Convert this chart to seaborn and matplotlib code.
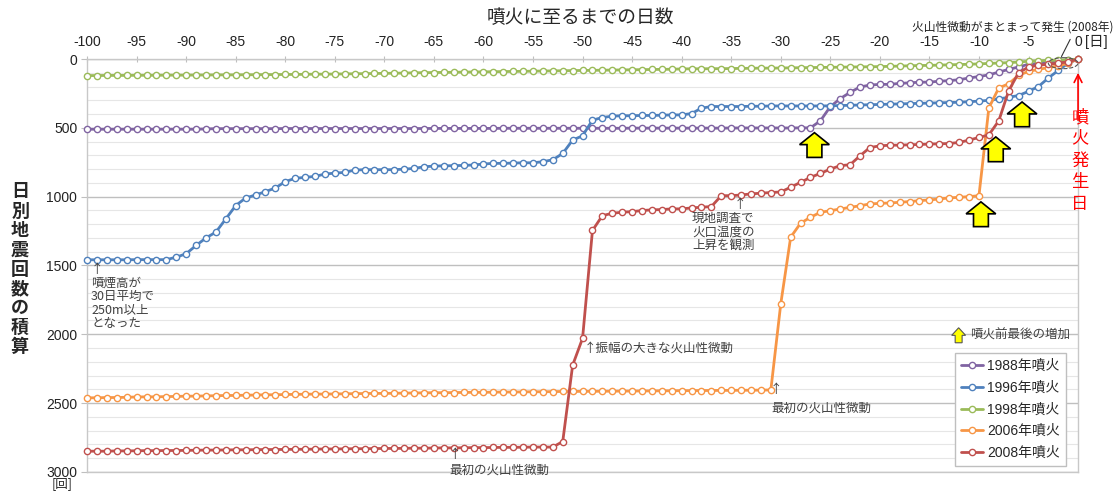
import pandas as pd
import matplotlib.pyplot as plt
import seaborn as sns
from matplotlib.patches import Ellipse, FancyArrow

# days before the eruption (x axis)
days = list(range(-100, 1))

# cumulative daily earthquake counts
eruption_1988 = [510, 510, 510, 510, 510, 510, 510, 510, 510, 510,
                 510, 510, 508, 506, 506, 506, 506, 506, 506, 506,
                 505, 505, 505, 505, 505, 505, 505, 505, 505, 505,
                 505, 505, 505, 505, 505, 504, 504, 504, 504, 504,
                 504, 504, 503, 503, 503, 503, 503, 503, 503, 503,
                 503, 503, 503, 503, 503, 502, 502, 502, 502, 502,
                 502, 502, 502, 502, 502, 501, 501, 501, 501, 501,
                 501, 501, 500, 500, 449, 346, 288, 242, 203, 189,
                 184, 184, 177, 173, 168, 168, 161, 157, 150, 138,
                 127, 115, 95, 75, 58, 38, 32, 26, 18, 10,
                 0]
eruption_1996 = [1459, 1459, 1459, 1459, 1459, 1458, 1458, 1458, 1458, 1440,
                 1415, 1355, 1300, 1258, 1162, 1065, 1010, 988, 964, 937,
                 891, 867, 860, 853, 836, 829, 824, 807, 804, 804,
                 804, 804, 800, 795, 783, 778, 776, 775, 773, 770,
                 763, 758, 758, 756, 754, 754, 746, 732, 686, 589,
                 558, 444, 425, 415, 412, 412, 410, 410, 408, 406,
                 406, 396, 357, 345, 345, 345, 345, 343, 343, 341,
                 341, 341, 341, 341, 341, 340, 338, 336, 334, 332,
                 330, 328, 326, 324, 322, 320, 318, 316, 314, 310,
                 306, 300, 290, 278, 265, 235, 200, 138, 83, 30,
                 0]
eruption_1998 = [120, 120, 119, 119, 119, 118, 118, 118, 117, 117,
                 117, 116, 116, 115, 115, 115, 114, 114, 113, 113,
                 112, 112, 111, 110, 110, 109, 108, 107, 106, 105,
                 104, 103, 102, 100, 99, 98, 97, 96, 95, 94,
                 93, 92, 91, 90, 89, 88, 87, 86, 85, 84,
                 83, 82, 81, 80, 79, 78, 77, 76, 75, 74,
                 72, 71, 71, 70, 70, 69, 68, 67, 66, 66,
                 65, 64, 63, 62, 61, 60, 59, 58, 57, 56,
                 55, 53, 51, 49, 47, 46, 44, 42, 40, 38,
                 35, 32, 29, 26, 22, 16, 13, 10, 8, 5,
                 0]
eruption_2006 = [2462, 2462, 2460, 2460, 2458, 2456, 2455, 2455, 2453, 2452,
                 2450, 2450, 2448, 2447, 2445, 2445, 2443, 2442, 2440, 2440,
                 2438, 2437, 2436, 2435, 2435, 2434, 2433, 2432, 2431, 2430,
                 2430, 2429, 2428, 2427, 2426, 2425, 2425, 2424, 2423, 2422,
                 2422, 2421, 2420, 2420, 2419, 2418, 2418, 2417, 2416, 2416,
                 2415, 2415, 2414, 2414, 2413, 2413, 2412, 2412, 2411, 2411,
                 2410, 2410, 2409, 2409, 2408, 2408, 2407, 2407, 2406, 2405,
                 1780, 1295, 1193, 1150, 1114, 1102, 1090, 1078, 1066, 1053,
                 1049, 1046, 1041, 1036, 1029, 1024, 1017, 1009, 1005, 1000,
                 993, 355, 210, 180, 118, 90, 75, 62, 50, 30,
                 0]
eruption_2008 = [2850, 2850, 2850, 2848, 2848, 2847, 2846, 2846, 2845, 2845,
                 2844, 2843, 2842, 2842, 2841, 2840, 2840, 2839, 2838, 2838,
                 2837, 2836, 2836, 2835, 2834, 2834, 2833, 2832, 2832, 2831,
                 2830, 2830, 2829, 2828, 2828, 2827, 2826, 2826, 2825, 2824,
                 2824, 2823, 2822, 2822, 2821, 2820, 2820, 2820, 2780, 2225,
                 2030, 1246, 1138, 1121, 1113, 1109, 1101, 1096, 1094, 1089,
                 1089, 1082, 1077, 1072, 993, 993, 988, 980, 975, 970,
                 966, 932, 896, 860, 831, 800, 775, 768, 703, 643,
                 631, 626, 626, 623, 621, 618, 616, 614, 606, 589,
                 570, 551, 449, 230, 100, 58, 45, 38, 30, 20,
                 0]

series = [eruption_1988, eruption_1996, eruption_1998, eruption_2006, eruption_2008]
labels = ['1988年噴火', '1996年噴火', '1998年噴火', '2006年噴火', '2008年噴火']
colors = ['#8064A2', '#4F81BD', '#9BBB59', '#F79646', '#C0504D']

sns.set_theme(style='white')
plt.rcParams['font.family'] = ['Liberation Sans', 'Noto Sans CJK JP']
plt.rcParams['axes.unicode_minus'] = False
cjk = ['Noto Sans CJK JP', 'DejaVu Sans']

fig, ax = plt.subplots(figsize=(11.16, 4.92), dpi=100)
fig.subplots_adjust(left=0.078, right=0.966, top=0.880, bottom=0.041)

for vals, lab, col in zip(series, labels, colors):
    df = pd.DataFrame({'day': days, 'count': vals})
    sns.lineplot(data=df, x='day', y='count', ax=ax, color=col, label=lab,
                 linewidth=2, marker='o', markersize=4.5, markerfacecolor='white',
                 markeredgecolor=col, markeredgewidth=1, clip_on=False, zorder=3)

# axes
ax.set_xlim(-100, 0)
ax.set_ylim(3000, 0)
ax.set_xticks(range(-100, 1, 5))
ax.set_yticks(range(0, 3001, 500))
ax.set_yticks(range(0, 3001, 100), minor=True)
ax.xaxis.tick_top()
ax.tick_params(axis='x', top=True, bottom=False, labeltop=True, labelbottom=False,
               direction='inout', length=5, width=0.8, color='#bfbfbf',
               labelsize=10, pad=5, labelcolor='#222222')
ax.tick_params(axis='y', which='major', left=True, length=4, width=0.8,
               color='#bfbfbf', labelsize=10, pad=3, labelcolor='#222222')
ax.tick_params(axis='y', which='minor', left=False)
ax.grid(which='major', axis='y', color='#bfbfbf', lw=1)
ax.grid(which='minor', axis='y', color='#e6e6e6', lw=0.8)
ax.grid(which='both', axis='x', visible=False)
ax.set_axisbelow(True)
for s in ax.spines.values():
    s.set_color('#c8c8c8')
    s.set_linewidth(1)
ax.set_xlabel('')
ax.set_ylabel('')

fig.text(0.52, 0.963, '噴火に至るまでの日数', ha='center', va='center', fontsize=13.5)
fig.text(0.018, 0.453, '\n'.join('日別地震回数の積算'), ha='center', va='center',
         fontsize=13, fontweight='bold', linespacing=1.02, family=cjk)
ax.text(0.7, -123, '[日]', ha='left', va='center', fontsize=10.5, clip_on=False)
fig.text(0.056, 0.004, '[回]', ha='center', va='bottom', fontsize=9, family=cjk)

note = dict(fontsize=9, color='#404040', family=cjk)
ax.text(-99.6, 1480, '↑\n噴煙高が\n30日平均で\n250m以上\nとなった', ha='left', va='top',
        linespacing=1.05, **note)
ax.text(-49.9, 2099, '↑振幅の大きな火山性微動', ha='left', va='center', **note)
ax.text(-34.1, 1060, '↑', ha='center', va='center', **note)
ax.text(-35.8, 1111, '現地調査で\n火口温度の\n上昇を観測', ha='center', va='top',
        linespacing=1.05, **note)
ax.text(-30.5, 2404, '↑', ha='center', va='center', **note)
ax.text(-30.9, 2535, '最初の火山性微動', ha='left', va='center', **note)
ax.text(-62.9, 2876, '↑', ha='center', va='center', **note)
ax.text(-63.4, 2985, '最初の火山性微動', ha='left', va='center', clip_on=False, **note)

# volcanic tremor cluster (2008)
ax.add_patch(Ellipse((-1.5, 30), width=3.0, height=80, fill=False, ls='--',
                     ec='#555555', lw=0.8, zorder=4, clip_on=False))
ax.annotate('火山性微動がまとまって発生 (2008年)', xy=(-1.8, 0), xytext=(-6.6, -232),
            ha='center', va='center', fontsize=8.5, color='#222222', annotation_clip=False,
            family=cjk,
            arrowprops=dict(arrowstyle='-', color='#333333', lw=0.8, relpos=(0.8, 0.0)))

# eruption day
ax.annotate('', xy=(0, 80), xytext=(0, 465), annotation_clip=False,
            arrowprops=dict(arrowstyle='->', color='red', lw=1.2, mutation_scale=14))
ax.text(0.2, 356, '\n'.join('噴火発生日'), color='red', fontsize=12.5, ha='center',
        va='top', linespacing=1.26, clip_on=False, family=cjk)

# last increase before eruption (yellow arrows)
for x, tip in [(-26.6, 535), (-9.8, 1038), (-8.3, 566), (-5.65, 312)]:
    ax.add_patch(FancyArrow(x, tip + 180, 0, -180, width=1.5, head_width=3.0,
                            head_length=87, length_includes_head=True,
                            fc='#ffff00', ec='black', lw=1.2, zorder=5))
ax.add_patch(FancyArrow(-12.05, 2062, 0, -109, width=0.7, head_width=1.4,
                        head_length=55, length_includes_head=True,
                        fc='#ffff00', ec='#555555', lw=0.8, zorder=5))
ax.text(-10.9, 2004, '噴火前最後の増加', ha='left', va='center', **note)

ax.legend(loc='upper right', bbox_to_anchor=(0.988, 0.288), borderaxespad=0,
          fontsize=10, frameon=True, fancybox=False, edgecolor='#bfbfbf', framealpha=1,
          handlelength=1.6, labelspacing=0.55, borderpad=0.45, handletextpad=0.3)

plt.savefig('out.png', dpi=100)
